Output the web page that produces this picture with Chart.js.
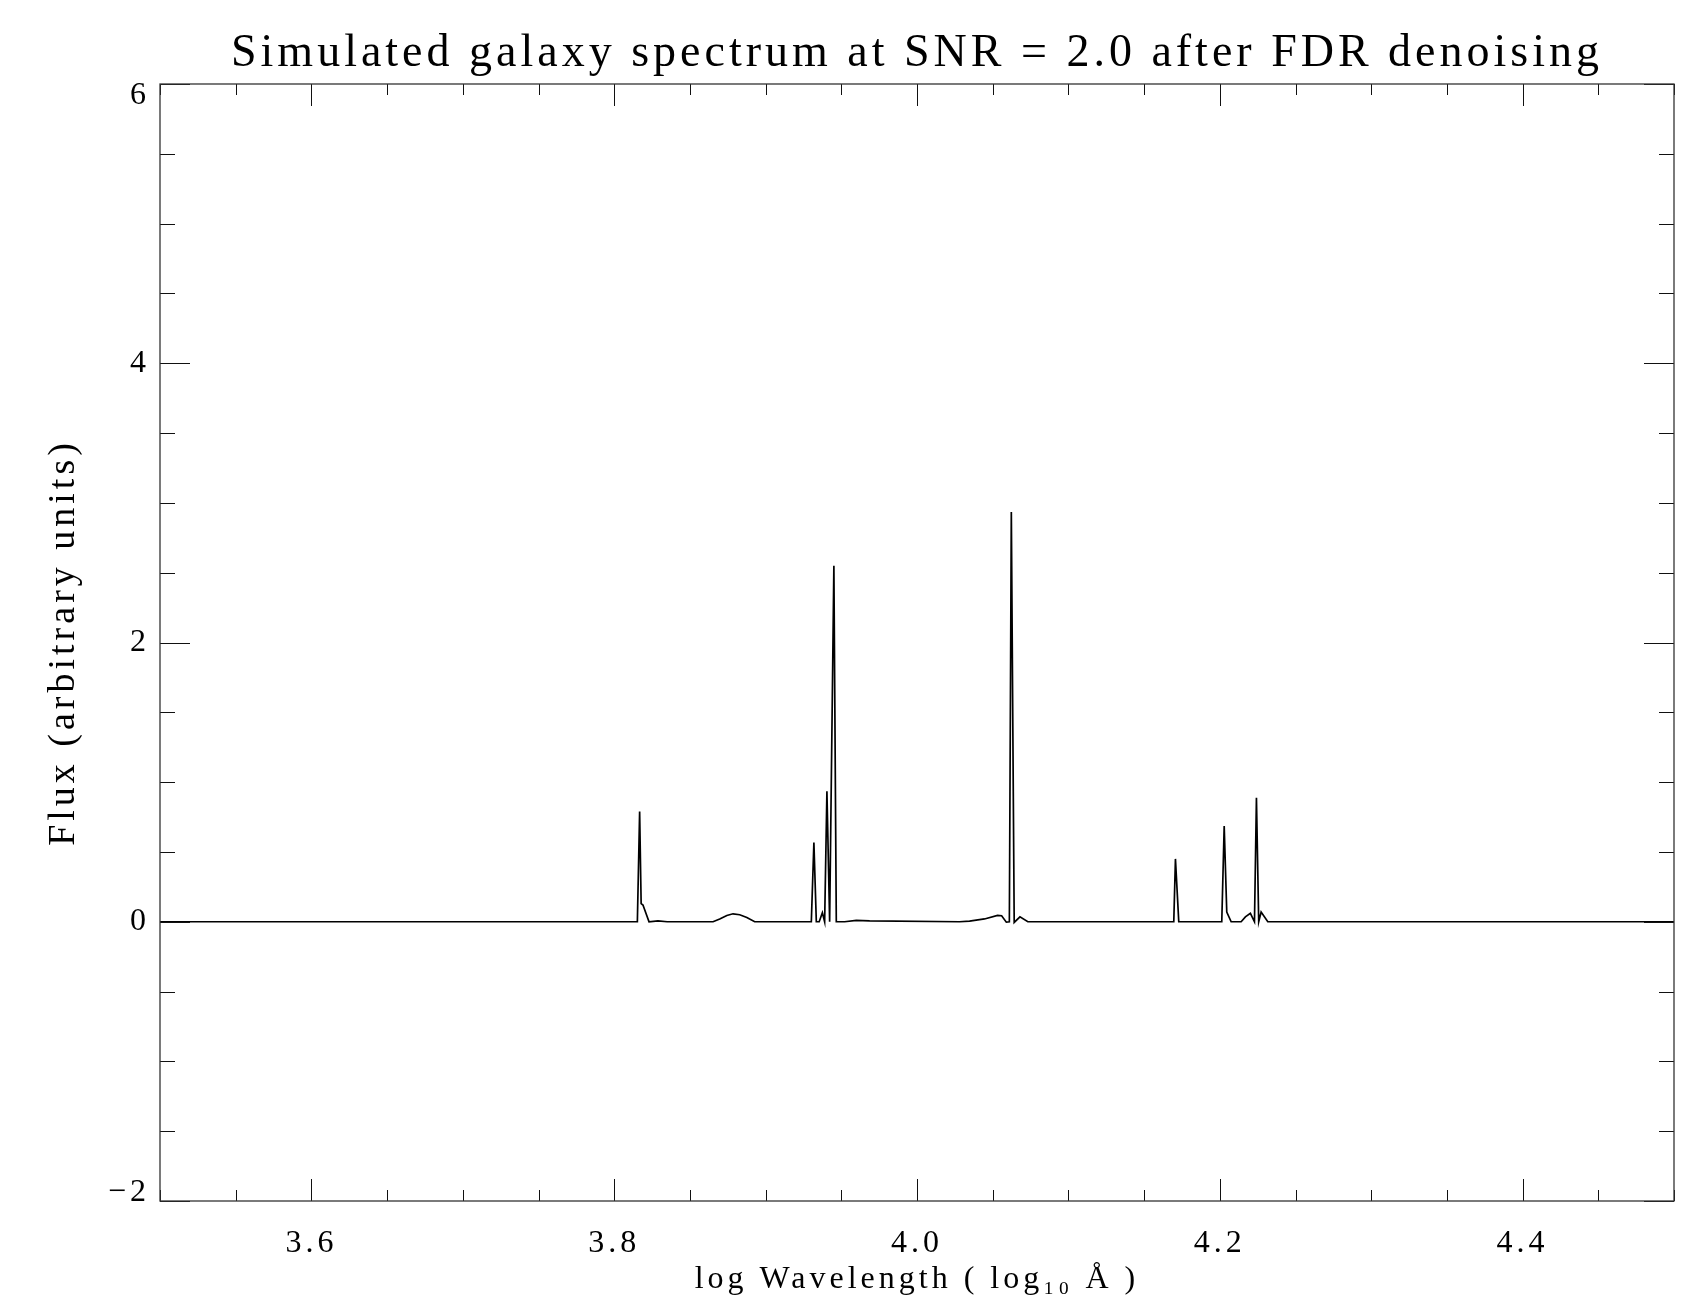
<!DOCTYPE html>
<html>
<head>
<meta charset="utf-8">
<title>Simulated galaxy spectrum</title>
<script src="https://cdn.jsdelivr.net/npm/chart.js@4/dist/chart.umd.min.js"></script>
<style>
    html, body { margin: 0; padding: 0; background: #fff; }
    #wrap { width: 1706px; height: 1306px; position: relative; }
</style>
</head>
<body>
<div id="wrap"><canvas id="spectrumChart"></canvas></div>
<script>
// log10 wavelength (A) and flux
const logWavelength = [
    3.5000, 3.8153, 3.8168, 3.8178, 3.8190, 3.8230, 3.8289, 3.8350,
    3.8653, 3.8697, 3.8744, 3.8785, 3.8829, 3.8876, 3.8928,
    3.9302, 3.9319, 3.9335, 3.9354, 3.9375, 3.9390, 3.9405, 3.9423, 3.9451, 3.9467,
    3.9522, 3.9599, 3.9687, 4.0281, 4.0347, 4.0446, 4.0532, 4.0559, 4.0590, 4.0610,
    4.0623, 4.0642, 4.0680, 4.0732,
    4.1696, 4.1707, 4.1729,
    4.2013, 4.2029, 4.2046, 4.2075,
    4.2141, 4.2169, 4.2202, 4.2229, 4.2242, 4.2257, 4.2273, 4.2317,
    4.5000
];
const flux = [
    0, 0, 0.79, 0.13, 0.12, 0, 0.006, 0,
    0, 0.02, 0.045, 0.057, 0.05, 0.03, 0,
    0, 0.567, 0, 0, 0.065, 0, 0.935, 0, 2.549, 0,
    0, 0.01, 0.006, 0, 0.004, 0.02, 0.045, 0.043, -0.003, 0,
    2.935, -0.005, 0.035, 0,
    0, 0.45, 0,
    0, 0.685, 0.07, 0,
    0, 0.035, 0.06, 0, 0.888, 0, 0.07, 0,
    0
];

const xMajorTicks = [3.6, 3.8, 4.0, 4.2, 4.4];
const xTickLabels = ['3.6', '3.8', '4.0', '4.2', '4.4'];
const yMajorTicks = [-2, 0, 2, 4, 6];
const yTickLabels = ['\u22122', '0', '2', '4', '6'];

const X_MIN = 3.5, X_MAX = 4.5, X_MINOR = 0.05;
const Y_MIN = -2, Y_MAX = 6, Y_MINOR = 0.5;

const serif = "'Liberation Serif', 'DejaVu Serif', serif";

function minorTicks(min, max, step) {
    const out = [];
    for (let v = min; v <= max + step / 2; v += step) out.push({ value: +v.toFixed(4) });
    return out;
}

function labelFor(value, majors, labels) {
    const i = majors.findIndex(m => Math.abs(m - value) < 1e-6);
    return i < 0 ? '' : labels[i];
}

// IDL style frame: box on all four sides, inward major/minor ticks
const idlFrame = {
    id: 'idlFrame',
    beforeDraw(chart) {
        chart.ctx.letterSpacing = '4px';
    },
    afterDraw(chart) {
        const { ctx, chartArea: a, scales } = chart;
        ctx.save();
        ctx.strokeStyle = '#111';
        ctx.lineWidth = 1;
        ctx.beginPath();
        scales.x.ticks.forEach(t => {
            const px = Math.round(scales.x.getPixelForValue(t.value)) + 0.5;
            const len = labelFor(t.value, xMajorTicks, xTickLabels) ? 22 : 11;
            ctx.moveTo(px, a.bottom); ctx.lineTo(px, a.bottom - len);
            ctx.moveTo(px, a.top); ctx.lineTo(px, a.top + len);
        });
        scales.y.ticks.forEach(t => {
            const py = Math.round(scales.y.getPixelForValue(t.value)) + 0.5;
            const len = yMajorTicks.includes(t.value) ? 30 : 15;
            ctx.moveTo(a.left, py); ctx.lineTo(a.left + len, py);
            ctx.moveTo(a.right, py); ctx.lineTo(a.right - len, py);
        });
        ctx.stroke();
        ctx.lineWidth = 1.3;
        ctx.strokeStyle = '#333';
        ctx.strokeRect(a.left, a.top, a.right - a.left, a.bottom - a.top);
        ctx.restore();
    }
};

const ctx = document.getElementById('spectrumChart').getContext('2d');
new Chart(ctx, {
    type: 'line',
    data: {
        datasets: [{
            data: logWavelength.map((x, i) => ({ x: x, y: flux[i] })),
            borderColor: '#000',
            borderWidth: 1.7,
            pointRadius: 0,
            tension: 0,
            fill: false
        }]
    },
    options: {
        responsive: true,
        maintainAspectRatio: false,
        animation: false,
        layout: { padding: { left: 0, right: 32, top: 0, bottom: 0 } },
        plugins: {
            legend: { display: false },
            tooltip: { enabled: false },
            title: {
                display: true,
                fullSize: false,
                text: 'Simulated galaxy spectrum at SNR = 2.0 after FDR denoising',
                color: '#000',
                font: { family: serif, size: 46, weight: 'normal', lineHeight: 1.2 },
                padding: { top: 26, bottom: 2.8 }
            }
        },
        scales: {
            x: {
                type: 'linear',
                min: X_MIN,
                max: X_MAX,
                grid: { display: false },
                border: { display: false },
                afterBuildTicks: s => { s.ticks = minorTicks(X_MIN, X_MAX, X_MINOR); },
                afterFit: s => { s.height = 105; },
                ticks: {
                    autoSkip: false,
                    maxRotation: 0,
                    padding: 15,
                    color: '#000',
                    font: { family: serif, size: 32 },
                    callback: v => labelFor(v, xMajorTicks, xTickLabels)
                },
                title: {
                    display: true,
                    text: 'log Wavelength ( log\u2081\u2080 \u00c5 )',
                    color: '#000',
                    font: { family: serif, size: 32, lineHeight: 1.2 },
                    padding: { top: 0, bottom: 7 }
                }
            },
            y: {
                type: 'linear',
                min: Y_MIN,
                max: Y_MAX,
                grid: { display: false },
                border: { display: false },
                afterBuildTicks: s => { s.ticks = minorTicks(Y_MIN, Y_MAX, Y_MINOR); },
                afterFit: s => { s.width = 160; },
                ticks: {
                    autoSkip: false,
                    padding: 2,
                    color: '#000',
                    // IDL keeps the end labels inside the axis range:
                    // a blank line with a short line height nudges them in
                    font: c => {
                        let lh = 1.2;
                        if (c.tick && c.tick.value === Y_MAX) lh = 0.72;
                        if (c.tick && c.tick.value === Y_MIN) lh = 0.5;
                        return { family: serif, size: 32, lineHeight: lh };
                    },
                    callback: v => {
                        const lab = labelFor(v, yMajorTicks, yTickLabels);
                        if (v === Y_MAX) return ['', lab];
                        if (v === Y_MIN) return [lab, ''];
                        return lab;
                    }
                },
                title: {
                    display: true,
                    text: 'Flux (arbitrary units)',
                    color: '#000',
                    font: { family: serif, size: 38, lineHeight: 1.2 },
                    padding: { top: 41, bottom: 0 }
                }
            }
        }
    },
    plugins: [idlFrame]
});
</script>
</body>
</html>
